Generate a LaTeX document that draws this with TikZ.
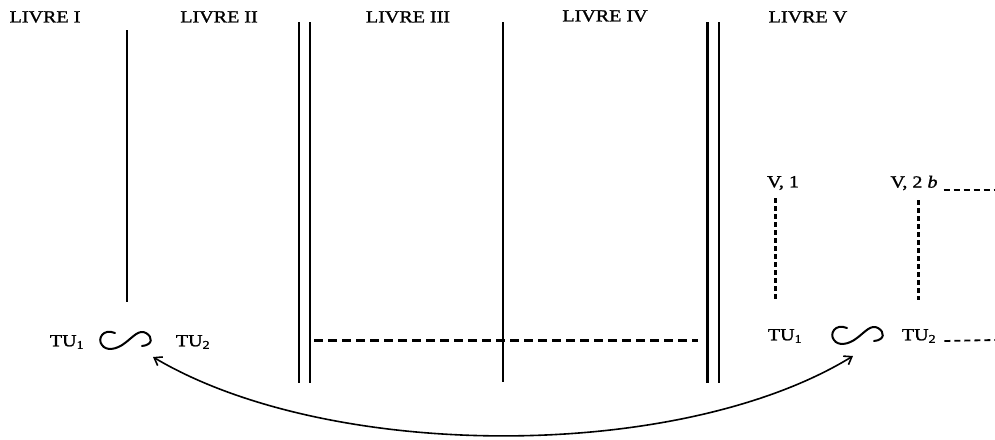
\documentclass[tikz,border=0pt]{standalone}
\usepackage{fontspec}
\setmainfont[FakeStretch=1.18,FakeBold=1.2]{Liberation Serif}
\usetikzlibrary{arrows.meta,calc}
\tikzset{
  lbl/.style={inner sep=0pt, font=\fontsize{17}{20}\selectfont},
  rule/.style={line width=2pt},
  thinrule/.style={line width=1.4pt},
  thickrule/.style={line width=2.6pt},
  hdash/.style={line width=3pt, dash pattern=on 9pt off 5pt},
  vdash/.style={line width=3pt, dash pattern=on 5pt off 3pt},
  sdash/.style={line width=1.8pt, dash pattern=on 6pt off 4pt},
  swung/.style={line width=2pt, line cap=round},
  link/.style={line width=1.6pt, {Straight Barb[length=7pt,width=10pt]}-{Straight Barb[length=7pt,width=10pt]}}
}
\newcommand{\swungdash}[1]{%
  \draw[swung] ($(#1)+(-10,-8)$) .. controls ($(#1)+(-22,-13)$) and ($(#1)+(-28,-2)$) .. ($(#1)+(-23,4)$)
    .. controls ($(#1)+(-19,10)$) and ($(#1)+(-9,9)$) .. ($(#1)+(0,2)$)
    .. controls ($(#1)+(8,-4)$) and ($(#1)+(14,-12)$) .. ($(#1)+(21,-8)$)
    .. controls ($(#1)+(28,-4)$) and ($(#1)+(28,4)$) .. ($(#1)+(17,5)$);}
\begin{document}
\begin{tikzpicture}[x=1pt,y=-1pt]
\useasboundingbox (0,0) rectangle (995,439);
% book titles
\node[lbl] (l1) at (45,17) {LIVRE I};
\node[lbl] (l2) at (219,17) {LIVRE II};
\node[lbl] (l3) at (408,17) {LIVRE III};
\node[lbl] (l4) at (605,16) {LIVRE IV};
\node[lbl] (l5) at (808,17) {LIVRE V};
% separators
\draw[rule] (127,30) -- (127,302);
\draw[rule] (299,22) -- (299,383);
\draw[thickrule] (310,22) -- (310,383);
\draw[thinrule] (503,22) -- (503,382);
\draw[thickrule] (707.5,22) -- (707.5,383);
\draw[rule] (718.5,22) -- (718.5,383);
% left TU
\node[lbl] (tu1) at (67,342) {TU\textsubscript{1}};
\node[lbl] (tu2) at (193,342) {TU\textsubscript{2}};
\coordinate (s1) at (125,341);
\swungdash{s1}
% dashed across books III-IV
\coordinate (d1) at (314,340);
\coordinate (d2) at (698,340);
\draw[hdash] (d1) -- (d2);
% book V
\node[lbl] (v1) at (783,183) {V, 1};
\node[lbl] (v2) at (914,183) {V, 2 \textit{b}};
\node[lbl] (tu3) at (785,336) {TU\textsubscript{1}};
\node[lbl] (tu4) at (919,336) {TU\textsubscript{2}};
\coordinate (s2) at (857,336);
\swungdash{s2}
\draw[vdash] (775,198) -- (775,300);
\draw[vdash] (918,200) -- (918,300);
\coordinate (e1) at (995,190);
\coordinate (e2) at (995,340);
\draw[sdash] ($(v2.east)+(6,7)$) -- (e1);
\draw[sdash] ($(tu4.east)+(8,5)$) -- (e2);
% arrow
\coordinate (a1) at (153,357);
\coordinate (a2) at (853,356);
\draw[link] (a1) .. controls (330,462) and (680,462) .. (a2);
\end{tikzpicture}
\end{document}
